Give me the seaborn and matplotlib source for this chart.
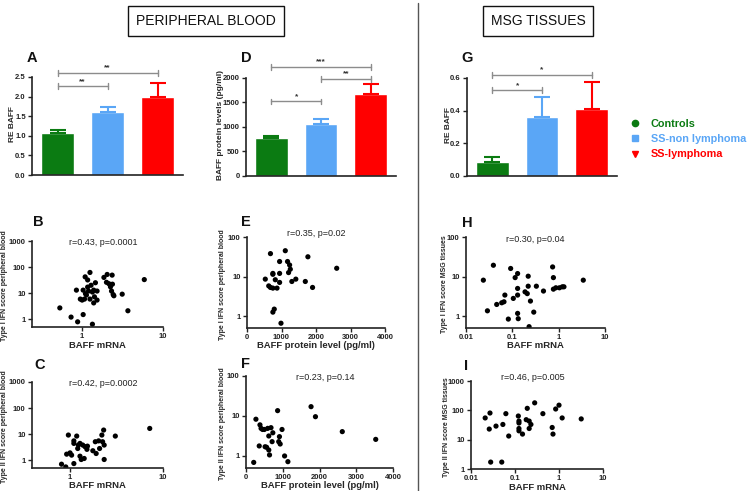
import numpy as np
import matplotlib
matplotlib.use("Agg")
import matplotlib.pyplot as plt
import matplotlib.ticker as mticker
from matplotlib.lines import Line2D
import seaborn as sns

# ── Setup ──────────────────────────────────────────────────────────────────────
sns.set_theme(style="ticks")
plt.rcParams.update({
    "font.family": ["Liberation Sans", "DejaVu Sans"],
    "axes.linewidth": 1.2,
    "axes.edgecolor": "#222222",
    "xtick.color": "#222222",
    "ytick.color": "#222222",
    "xtick.major.size": 3,
    "ytick.major.size": 3,
    "xtick.major.width": 1.0,
    "ytick.major.width": 1.0,
    "xtick.major.pad": 1.0,
    "ytick.major.pad": 1.5,
})

W, H = 750, 491

# ── Data ───────────────────────────────────────────────────────────────────────
groups = ["Controls", "SS-non lymphoma", "SS-lymphoma"]
group_colors = ["#0b7b12", "#5aa6f6", "#ff0000"]
group_markers = ["o", "s", "v"]

# bar panels: mean and upper SEM
a_mean = [1.06, 1.61, 1.98]
a_err = [0.08, 0.12, 0.36]
d_mean = [767, 1062, 1671]
d_err = [55, 96, 213]
g_mean = [0.088, 0.363, 0.408]
g_err = [0.029, 0.119, 0.166]

# significance brackets: (from group, to group, level, stars)
a_sig = [(0, 1, 2.26, "**"), (0, 2, 2.61, "**")]
d_sig = [(0, 1, 1521, "*"), (1, 2, 1986, "**"), (0, 2, 2226, "***")]
g_sig = [(0, 1, 0.525, "*"), (0, 2, 0.619, "*")]

# B: BAFF mRNA vs type I IFN score (peripheral blood)
b_x = [0.53, 0.73, 0.88, 1.03, 1.34, 0.85, 0.95, 1.0, 1.07, 1.03, 1.09, 1.17, 1.25,
       1.17, 1.29, 1.13, 1.25, 1.34, 1.39, 1.46, 1.42, 1.39, 1.53, 1.53, 1.86, 2.04,
       2.0, 2.14, 2.24, 2.31, 2.35, 2.37, 2.42, 2.47, 3.13, 3.68, 5.87, 1.1, 1.2]
b_y = [2.7, 1.2, 0.79, 1.5, 0.64, 13, 5.9, 5.4, 5.9, 13, 42, 32, 62,
       17, 20, 8.4, 5.9, 11, 13, 25, 7.2, 4.2, 12, 5.4, 40, 52,
       26, 23, 17.5, 12, 49, 22, 8.8, 7.9, 9.1, 2.1, 33, 9.5, 12]

# C: BAFF mRNA vs type II IFN score (peripheral blood)
c_x = [0.81, 0.9, 0.92, 0.96, 1.0, 1.04, 1.1, 1.1, 1.1, 1.18, 1.21, 1.23, 1.28, 1.28,
       1.32, 1.37, 1.42, 1.45, 1.52, 1.54, 1.76, 1.87, 1.91, 2.03, 2.08, 2.2, 2.24,
       2.3, 2.33, 2.33, 3.07, 7.2]
c_y = [0.70, 0.55, 1.7, 9.2, 1.9, 1.56, 0.74, 4.4, 5.5, 8.4, 2.8, 3.8, 4.4, 1.42,
       1.06, 3.8, 1.16, 3.3, 2.6, 3.45, 2.3, 5.1, 1.8, 5.5, 2.8, 9.2, 5.1,
       14.3, 3.8, 1.06, 8.4, 16.5]

# E: BAFF protein vs type I IFN score (peripheral blood)
e_x = [530, 630, 680, 750, 870, 680, 750, 750, 820, 945, 945, 945, 790, 750, 985,
       1110, 1175, 1205, 1235, 1255, 1300, 1415, 1690, 1765, 1900, 2600]
e_y = [8.6, 5.8, 5.3, 5.1, 5.1, 38, 12, 11.4, 8.3, 24, 12, 7.1, 1.5, 1.26, 0.66,
       45, 24, 12.6, 19.6, 15.3, 7.5, 8.6, 7.5, 31.6, 5.3, 16.2]

# F: BAFF protein vs type II IFN score (peripheral blood)
f_x = [210, 270, 360, 380, 410, 450, 500, 520, 560, 590, 620, 620, 640, 680, 710,
       730, 860, 890, 910, 930, 980, 1050, 1140, 1770, 1890, 2620, 3530]
f_y = [0.69, 8.3, 1.78, 6.0, 4.9, 4.6, 4.6, 1.7, 1.65, 4.9, 1.41, 3.16, 1.06, 5.1, 2.28,
       3.8, 13.6, 2.28, 3.04, 1.99, 4.6, 1.0, 0.72, 17.1, 9.6, 4.06, 2.6]

# H: BAFF mRNA vs type I IFN score (MSG tissues)
h_x = [0.0237, 0.029, 0.039, 0.046, 0.059, 0.066, 0.069, 0.082, 0.092, 0.105, 0.115,
       0.13, 0.13, 0.13, 0.13, 0.134, 0.188, 0.21, 0.22, 0.22, 0.23, 0.246, 0.29, 0.33,
       0.47, 0.74, 0.77, 0.77, 0.87, 1.04, 1.2, 1.3, 3.4]
h_y = [8.1, 1.36, 19.3, 1.97, 2.17, 2.3, 3.4, 0.84, 16, 2.8, 9.4,
       11.9, 5.0, 3.4, 1.17, 0.86, 4.1, 3.7, 10.2, 5.7, 0.54, 2.4, 1.26, 5.7,
       4.3, 17.5, 9.4, 4.8, 5.2, 5.2, 5.5, 5.5, 8.1]

# I: BAFF mRNA vs type II IFN score (MSG tissues)
i_x = [0.021, 0.027, 0.026, 0.028, 0.037, 0.05, 0.053, 0.062, 0.072, 0.119, 0.123,
       0.123, 0.123, 0.123, 0.148, 0.18, 0.19, 0.21, 0.21, 0.23, 0.28, 0.43, 0.70,
       0.73, 0.84, 1.0, 1.18, 3.2]
i_y = [55, 81, 23, 1.72, 29, 1.72, 33, 77, 13.3, 64, 43,
       37, 24, 20, 15.5, 48, 117, 43, 24, 33, 180, 77, 26,
       15.5, 111, 150, 55, 51]


# ── Helpers ────────────────────────────────────────────────────────────────────
def rect(x0, y0, x1, y1):
    return [x0 / W, 1 - y1 / H, (x1 - x0) / W, (y1 - y0) / H]


def ftext(x, y, s, **kw):
    kw.setdefault("ha", "center")
    kw.setdefault("va", "center")
    fig.text(x / W, 1 - y / H, s, **kw)


def style_ticks(ax):
    sns.despine(ax=ax)
    for lab in ax.get_xticklabels() + ax.get_yticklabels():
        lab.set_fontsize(5.5)
        lab.set_fontweight("bold")


def bar_panel(box, means, errs, sig, yticks, ylabels, ylab_x, ylab):
    ax = fig.add_axes(rect(*box))
    sns.barplot(x=groups, y=means, hue=groups, palette=group_colors, width=0.66,
                saturation=1, legend=False, ax=ax)
    for i, (m, e) in enumerate(zip(means, errs)):
        ax.errorbar(i, m, yerr=[[0], [e]], fmt="none", ecolor=group_colors[i],
                    elinewidth=1.5, capsize=6, capthick=1.5)
    ax.set_xlim(-0.51, 2.51)
    ax.set_ylim(yticks[0], yticks[-1])
    ax.set_yticks(yticks)
    ax.set_yticklabels(ylabels)
    ax.set_xticks([])
    ax.set_xlabel("")
    ax.set_ylabel("")
    span = yticks[-1] - yticks[0]
    for i, j, lvl, stars in sig:
        ax.plot([i, j], [lvl, lvl], color="#8c8c8c", lw=1, clip_on=False)
        for k in (i, j):
            ax.plot([k, k], [lvl - span * 0.03, lvl + span * 0.03], color="#8c8c8c",
                    lw=1, clip_on=False)
        ax.text((i + j) / 2, lvl + span * 0.015, stars, ha="center", va="bottom",
                fontsize=6, fontweight="bold", color="#333333", clip_on=False)
    style_ticks(ax)
    ftext(ylab_x, (box[1] + box[3]) / 2 - 2, ylab, rotation=90, fontsize=6,
          fontweight="bold")
    return ax


def scatter_panel(box, x, y, xlim, ylim, xticks, xlabels, yticks, ylabels,
                  xlog, stat, stat_xy, xlab, ylab, ylab_x):
    ax = fig.add_axes(rect(*box))
    sns.scatterplot(x=x, y=y, color="black", s=14, edgecolor="none", ax=ax)
    if xlog:
        ax.set_xscale("log")
    ax.set_yscale("log")
    ax.set_xlim(*xlim)
    ax.set_ylim(*ylim)
    ax.xaxis.set_major_locator(mticker.FixedLocator(xticks))
    ax.xaxis.set_major_formatter(mticker.FixedFormatter(xlabels))
    ax.yaxis.set_major_locator(mticker.FixedLocator(yticks))
    ax.yaxis.set_major_formatter(mticker.FixedFormatter(ylabels))
    ax.xaxis.set_minor_locator(mticker.NullLocator())
    ax.yaxis.set_minor_locator(mticker.NullLocator())
    style_ticks(ax)
    ftext(stat_xy[0], stat_xy[1], stat, fontsize=6.5, color="#222222")
    ftext((box[0] + box[2]) / 2, box[3] + 18, xlab, fontsize=6.8, fontweight="bold")
    ftext(ylab_x, (box[1] + box[3]) / 2 + 2, ylab, rotation=90, fontsize=5,
          fontweight="bold")
    return ax


# ── Figure ─────────────────────────────────────────────────────────────────────
fig = plt.figure(figsize=(W / 100, H / 100), dpi=100)

# section headers and separator
for x, s in [(206, "PERIPHERAL BLOOD"), (538, "MSG TISSUES")]:
    ftext(x, 21, s, fontsize=10, color="#111111",
          bbox=dict(boxstyle="square,pad=0.55", fc="white", ec="#111111", lw=1))
fig.add_artist(Line2D([418 / W, 418 / W], [0, 1 - 3 / H], color="#555555", lw=1))

# bar charts
bar_panel((32, 77, 183, 175), a_mean, a_err, a_sig,
          [0, 0.5, 1.0, 1.5, 2.0, 2.5], ["0.0", "0.5", "1.0", "1.5", "2.0", "2.5"],
          12, "RE BAFF")
bar_panel((246, 78, 396, 176), d_mean, d_err, d_sig,
          [0, 500, 1000, 1500, 2000], ["0", "500", "1000", "1500", "2000"],
          220, "BAFF protein levels (pg/ml)")
bar_panel((467, 78, 617, 176), g_mean, g_err, g_sig,
          [0, 0.2, 0.4, 0.6], ["0.0", "0.2", "0.4", "0.6"],
          448, "RE BAFF")

# legend
handles = [Line2D([], [], marker=m, color=c, linestyle="none", markersize=4.5)
           for m, c in zip(group_markers, group_colors)]
leg = fig.legend(handles, groups, loc="center left",
                 bbox_to_anchor=(628 / W, 1 - 139 / H), frameon=False,
                 handletextpad=0.9, labelspacing=0.5, handlelength=1.2,
                 borderaxespad=0, borderpad=0, prop={"size": 7.8, "weight": "bold"})
for txt, c in zip(leg.get_texts(), group_colors):
    txt.set_color(c)

# scatter plots
log_mrna = dict(xticks=[1, 10], xlabels=["1", "10"])
log_msg = dict(xticks=[0.01, 0.1, 1, 10], xlabels=["0.01", "0.1", "1", "10"])
lin_prot = dict(xticks=[0, 1000, 2000, 3000, 4000],
                xlabels=["0", "1000", "2000", "3000", "4000"])
y1000 = dict(yticks=[1, 10, 100, 1000], ylabels=["1", "10", "100", "1000"])
y100 = dict(yticks=[1, 10, 100], ylabels=["1", "10", "100"])

scatter_panel((32, 241, 163, 327), b_x, b_y, (0.24, 10), (0.5, 1000), xlog=True,
              stat="r=0.43, p=0.0001", stat_xy=(103, 242), xlab="BAFF mRNA",
              ylab="Type I IFN score peripheral blood", ylab_x=5, **log_mrna, **y1000)
scatter_panel((247, 237, 385, 328), e_x, e_y, (0, 4000), (0.5, 100), xlog=False,
              stat="r=0.35, p=0.02", stat_xy=(316, 234), xlab="BAFF protein level (pg/ml)",
              ylab="Type I IFN score peripheral blood", ylab_x=223, **lin_prot, **y100)
scatter_panel((466, 237, 605, 328), h_x, h_y, (0.01, 10), (0.5, 100), xlog=True,
              stat="r=0.30, p=0.04", stat_xy=(535, 240), xlab="BAFF mRNA",
              ylab="Type I IFN score MSG tissues", ylab_x=444, **log_msg, **y100)
scatter_panel((32, 382, 163, 468), c_x, c_y, (0.39, 10), (0.5, 1000), xlog=True,
              stat="r=0.42, p=0.0002", stat_xy=(103, 384), xlab="BAFF mRNA",
              ylab="Type II IFN score peripheral blood", ylab_x=5, **log_mrna, **y1000)
scatter_panel((246, 376, 393, 468), f_x, f_y, (0, 4000), (0.5, 100), xlog=False,
              stat="r=0.23, p=0.14", stat_xy=(325, 378), xlab="BAFF protein level (pg/ml)",
              ylab="Type II IFN score peripheral blood", ylab_x=223, **lin_prot, **y100)
scatter_panel((471, 381, 603, 469), i_x, i_y, (0.01, 10), (1, 1000), xlog=True,
              stat="r=0.46, p=0.005", stat_xy=(533, 377), xlab="BAFF mRNA",
              ylab="Type II IFN score MSG tissues", ylab_x=446, **log_msg, **y1000)

# panel letters
for s, x, y in [("A", 32, 58), ("D", 246, 58), ("G", 467, 58),
                ("B", 38, 222), ("E", 246, 222), ("H", 467, 223),
                ("C", 40, 365), ("F", 246, 364), ("I", 466, 366)]:
    ftext(x, y, s, fontsize=10.5, fontweight="bold", color="#111111")

fig.savefig("out.png", dpi=100)
